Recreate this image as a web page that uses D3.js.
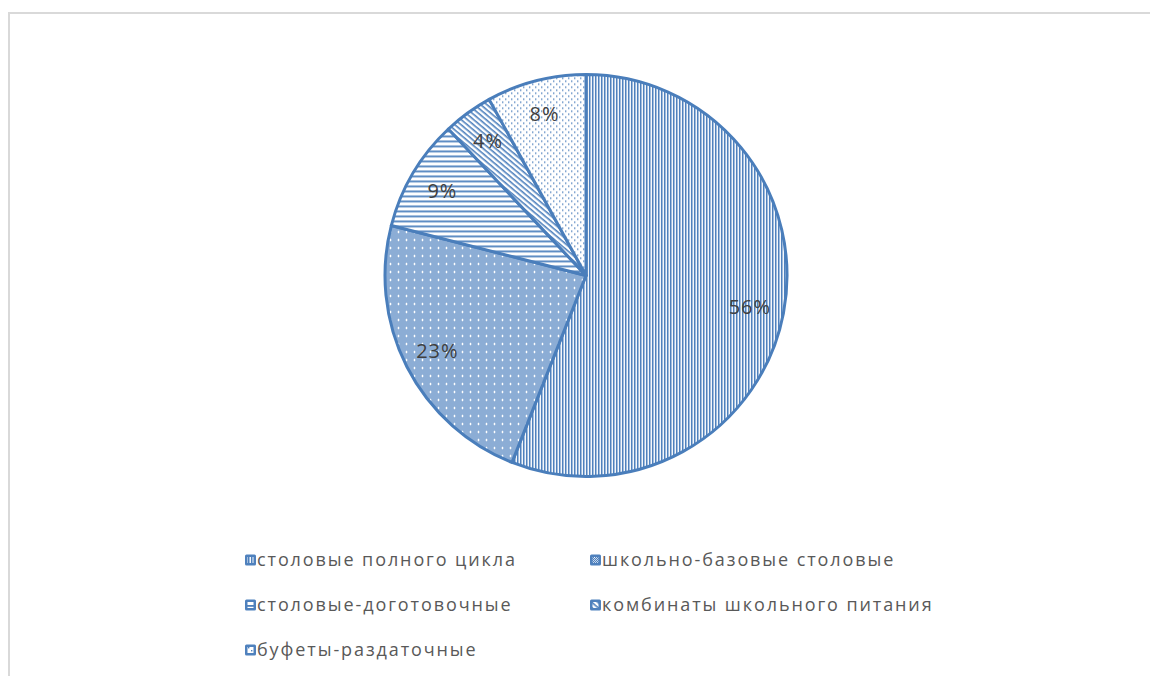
<!DOCTYPE html>
<html>
<head>
<meta charset="utf-8">
<script src="https://cdn.jsdelivr.net/npm/d3@7"></script>
<style>
  body { margin: 0; background: #fff; }
  svg { display: block; }
</style>
</head>
<body>
<script>
'use strict';

const categories = [
  "столовые полного цикла",
  "школьно-базовые столовые",
  "столовые-доготовочные",
  "комбинаты школьного питания",
  "буфеты-раздаточные"
];
const values = [56, 23, 9, 4, 8];
const labels = ["56%", "23%", "9%", "4%", "8%"];
const patternIds = ["pVert", "pCheck", "pHoriz", "pDiag", "pDots"];

const width = 1150;
const height = 676;
const blue = "#4f81bd";
const edge = "#4a7ebb";

let svg = d3.select('body').append('svg')
    .attr("width", width)
    .attr("height", height);

// chart frame
svg.append("rect")
    .attr("x", 9).attr("y", 13)
    .attr("width", 1160).attr("height", 700)
    .attr("fill", "#fff")
    .attr("stroke", "#d9d9d9")
    .attr("stroke-width", 2);

let defs = svg.append("defs");

// vertical lines
let p = defs.append("pattern").attr("id", "pVert")
    .attr("patternUnits", "userSpaceOnUse").attr("width", 3).attr("height", 3);
p.append("rect").attr("width", 3).attr("height", 3).attr("fill", "#f4f7fb");
p.append("rect").attr("width", 1.5).attr("height", 3).attr("fill", blue);

// small check with white crosses
p = defs.append("pattern").attr("id", "pCheck")
    .attr("patternUnits", "userSpaceOnUse").attr("width", 8).attr("height", 8);
p.append("rect").attr("width", 8).attr("height", 8).attr("fill", "#c9d8ec");
for (let i = 0; i < 8; i++) {
  for (let j = 0; j < 8; j++) {
    if ((i + j) % 2 === 0) {
      p.append("rect").attr("x", i).attr("y", j).attr("width", 1).attr("height", 1).attr("fill", blue);
    }
  }
}
p.append("rect").attr("x", 3).attr("y", 4).attr("width", 3).attr("height", 1).attr("fill", "#fff");
p.append("rect").attr("x", 4).attr("y", 3).attr("width", 1).attr("height", 3).attr("fill", "#fff");

// horizontal lines
p = defs.append("pattern").attr("id", "pHoriz")
    .attr("patternUnits", "userSpaceOnUse").attr("width", 5).attr("height", 5);
p.append("rect").attr("width", 5).attr("height", 5).attr("fill", "#fff");
p.append("rect").attr("width", 5).attr("height", 1.8).attr("fill", blue);

// diagonal lines
p = defs.append("pattern").attr("id", "pDiag")
    .attr("patternUnits", "userSpaceOnUse").attr("width", 4).attr("height", 4)
    .attr("patternTransform", "rotate(40)");
p.append("rect").attr("width", 4).attr("height", 4).attr("fill", "#fff");
p.append("rect").attr("width", 4).attr("height", 1.6).attr("fill", blue);

// dots
p = defs.append("pattern").attr("id", "pDots")
    .attr("patternUnits", "userSpaceOnUse").attr("width", 6).attr("height", 6);
p.append("rect").attr("width", 6).attr("height", 6).attr("fill", "#fff");
p.append("rect").attr("x", 0).attr("y", 0).attr("width", 1.4).attr("height", 1.4).attr("fill", blue);
p.append("rect").attr("x", 3).attr("y", 3).attr("width", 1.4).attr("height", 1.4).attr("fill", blue);

const cx = 586, cy = 275.5, r = 201;

let pie = d3.pie().sort(null).value(d => d);
let arc = d3.arc().innerRadius(0).outerRadius(r);
let labelArc = d3.arc().innerRadius(r * 0.83).outerRadius(r * 0.83);

let g = svg.append("g").attr("transform", `translate(${cx},${cy})`);
let arcs = pie(values);

g.selectAll("path.slice")
    .data(arcs).enter()
    .append("path")
    .attr("class", "slice")
    .attr("d", arc)
    .attr("fill", (d, i) => `url(#${patternIds[i]})`)
    .attr("stroke", edge)
    .attr("stroke-width", 3)
    .attr("stroke-linejoin", "round");

g.selectAll("text.lbl")
    .data(arcs).enter()
    .append("text")
    .attr("class", "lbl")
    .attr("transform", d => `translate(${labelArc.centroid(d)})`)
    .attr("text-anchor", "middle")
    .attr("dy", "0.35em")
    .style("font-family", "'Open Sans', sans-serif")
    .style("font-size", "20px")
    .style("letter-spacing", "1px")
    .style("fill", "#404040")
    .text((d, i) => labels[i]);

// legend
let colX = d3.scalePoint().domain([0, 1]).range([245, 590]);
let rowY = d3.scalePoint().domain([0, 1, 2]).range([560, 650]);

let leg = svg.selectAll("g.leg")
    .data(categories).enter()
    .append("g")
    .attr("class", "leg")
    .attr("transform", (d, i) => `translate(${colX(i % 2)},${rowY(Math.floor(i / 2))})`);

leg.append("rect")
    .attr("x", 0).attr("y", -5.5)
    .attr("width", 11).attr("height", 11)
    .attr("rx", 1.5)
    .attr("fill", blue);

leg.append("rect")
    .attr("x", 2.5).attr("y", -3)
    .attr("width", 6).attr("height", 6)
    .attr("fill", (d, i) => `url(#${patternIds[i]})`);

leg.append("text")
    .attr("x", 12)
    .attr("dy", "0.35em")
    .style("font-family", "'Open Sans', sans-serif")
    .style("font-size", "18px")
    .style("letter-spacing", "1.9px")
    .style("fill", "#595959")
    .text(d => d);
</script>
</body>
</html>
